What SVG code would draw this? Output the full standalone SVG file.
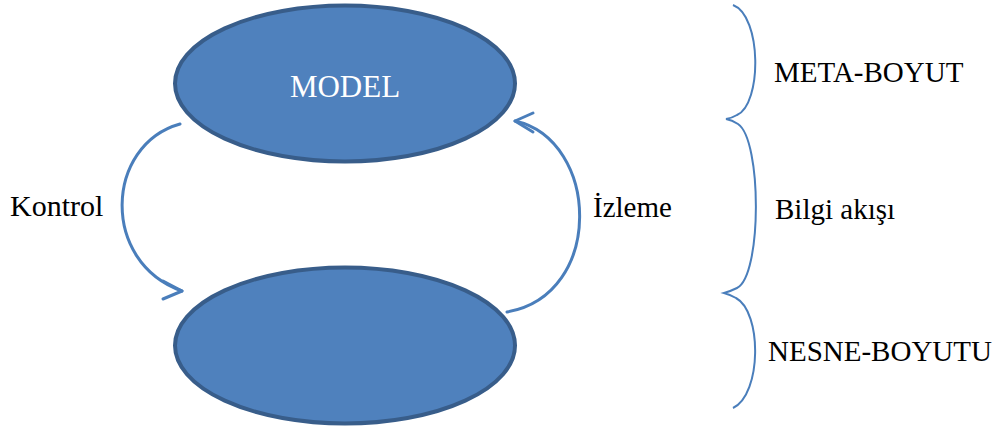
<svg xmlns="http://www.w3.org/2000/svg" width="1008" height="427" viewBox="0 0 1008 427">
<defs>
<style>
.node{fill:#4f81bd;stroke:#385d8a;stroke-width:4}
.conn{fill:none;stroke:#4a7ebb;stroke-width:3;stroke-linecap:round;stroke-linejoin:round}
.brace{fill:none;stroke:#4a7ebb;stroke-width:2}
.lbl{font-family:"Liberation Serif","Times New Roman",serif;font-size:29px;fill:#000000}
</style>
</defs>
<rect width="1008" height="427" fill="#fff"/>
<g id="model">
<ellipse class="node" cx="345" cy="83.5" rx="170" ry="78"/>
<text x="345" y="97" text-anchor="middle" font-family="Liberation Serif, serif" font-size="31" fill="#ffffff">MODEL</text>
</g>
<g id="nesne">
<ellipse class="node" cx="345" cy="345.5" rx="170" ry="78"/>
</g>
<g id="connectors">
<path class="conn" d="M180,124 C105,145 100,262 182,291"/>
<path class="conn" d="M163,281 L182,291 L163,299"/>
<path class="conn" d="M507,312 C605,295 600,140 515,121"/>
<path class="conn" d="M533,113 L515,121 L533,132"/>
</g>
<g id="braces">
<path class="brace" d="M733,5 C762,16 762,104 737,115 Q732,118 726,119 Q732,120 738,124 C762,140 762,276 737,288 Q731,291 724,293 Q731,295 736,298 C762,312 762,394 733,408"/>
</g>
<g id="labels">
<text class="lbl" x="10" y="216" style="font-size:30px">Kontrol</text>
<text class="lbl" x="593" y="217">İzleme</text>
<text class="lbl" x="774" y="82">META-BOYUT</text>
<text class="lbl" x="775" y="219">Bilgi akışı</text>
<text class="lbl" x="768" y="361">NESNE-BOYUTU</text>
</g>
</svg>
